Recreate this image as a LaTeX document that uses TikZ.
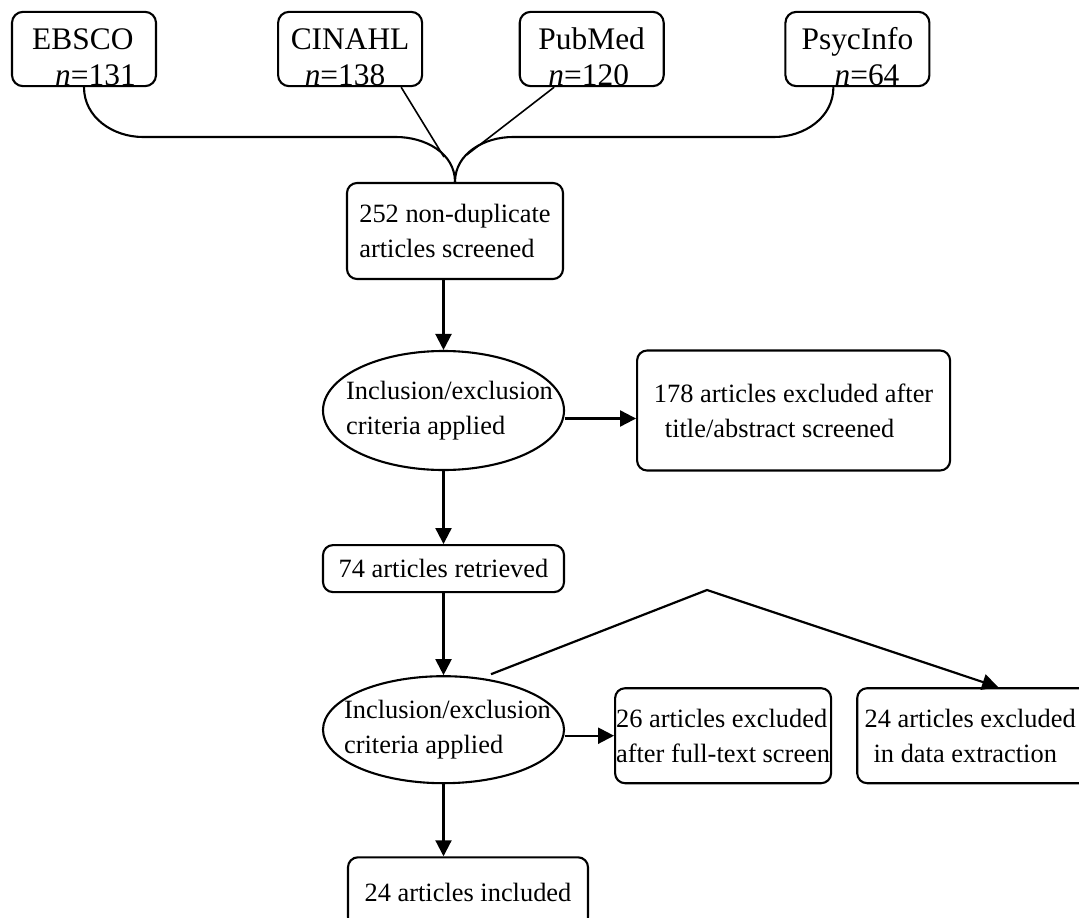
\documentclass[tikz,border=0pt]{standalone}
\usepackage{fontspec}
\setmainfont{Liberation Serif}
\usepackage{tikz}
\usetikzlibrary{shapes.geometric, arrows.meta, positioning, calc}

\begin{document}
\begin{tikzpicture}[
    x=1pt, y=1pt,
    source/.style={rectangle, draw, line width=2.1pt, rounded corners=11pt, minimum width=144pt, minimum height=74pt, inner xsep=4pt, inner ysep=0pt, align=left, font=\fontsize{31.4pt}{36pt}\selectfont},
    block/.style={rectangle, draw, line width=2.1pt, rounded corners=10pt, inner sep=0pt, align=left, font=\fontsize{26.4pt}{35pt}\selectfont},
    decision/.style={ellipse, draw, line width=2.1pt, minimum width=241pt, inner xsep=-30pt, inner ysep=0pt, align=left, font=\fontsize{26.4pt}{35pt}\selectfont},
    arrow/.style={-{Triangle[length=16pt, width=16pt]}, line width=2.2pt},
    link/.style={line width=2.1pt}
]
\useasboundingbox (0,0) rectangle (1079,-918);

% Row 0: databases
\node[source] at (84,-49) (ebsco) {EBSCO\rule{0pt}{38pt}\\\hspace*{23pt}\textit{n}=131};
\node[source, right=120pt of ebsco] (cinahl) {CINAHL\rule{0pt}{38pt}\\\hspace*{14pt}\textit{n}=138};
\node[source, right=95.5pt of cinahl] (pubmed) {PubMed\rule{0pt}{38pt}\\\hspace*{10pt}\textit{n}=120};
\node[source, right=119.6pt of pubmed] (psyc) {PsycInfo\rule{0pt}{38pt}\\\hspace*{33pt}\textit{n}=64};

% Row 1: merged records
\node[block, minimum width=216pt, minimum height=96pt] at (455,-231) (dup) {252 non-duplicate\\articles screened};

% Row 2: first screening
\node[decision, minimum height=119pt] at (443.5,-410.5) (incl1) {\hspace*{12pt}Inclusion/exclusion\\\hspace*{12pt}criteria applied};
\node[block, minimum width=313pt, minimum height=120pt, right=71pt of incl1] (excl1) {178 articles excluded after\\\hspace*{11pt}title/abstract screened};

% Row 3: retrieved
\node[block, minimum width=241pt, minimum height=47pt, below=73pt of incl1] (retr) {74 articles retrieved};

% Row 4: second screening
\node[decision, minimum height=107pt, below=82pt of retr] (incl2) {\hspace*{8pt}Inclusion/exclusion\\\hspace*{8pt}criteria applied};
\node[block, minimum width=216pt, minimum height=95pt, right=49pt of incl2, yshift=-6pt] (excl2) {26 articles excluded\\after full-text screen};
\node[block, minimum width=238pt, minimum height=95pt, right=24pt of excl2] (excl3) {24 articles excluded\hspace*{12pt}\\\hspace*{9pt}in data extraction};

% Row 5: included
\node[block, minimum width=240pt, minimum height=70pt, below=72pt of incl2, xshift=24.5pt] (final) {24 articles included};

% Brace points
\coordinate (lknee) at (143,-137);
\coordinate (lhook) at (396,-137);
\coordinate (rhook) at (513,-137);
\coordinate (rknee) at (774,-137);
\coordinate (cinahlend) at (444,-157);
\coordinate (pubmedend) at (466.6,-155);
\coordinate (peak) at (707,-590);

% === Arrows ===
% Databases -> merged records
\draw[link] (ebsco.south) to[out=-90, in=180] (lknee) -- (lhook) to[out=0, in=90] (dup.north);
\draw[link] (dup.north) to[out=90, in=180] (rhook) -- (rknee) to[out=0, in=-90] ([xshift=-24pt]psyc.south);
\draw[link, line width=1.6pt] ([xshift=-22pt]cinahl.south east) -- (cinahlend);
\draw[link, line width=1.6pt] ([xshift=35.5pt]pubmed.south west) -- (pubmedend);

% Main column
\draw[arrow] (dup.south -| incl1.north) -- (incl1.north);
\draw[arrow] ([yshift=-8pt]incl1.east) -- ([yshift=-8pt]excl1.west);
\draw[arrow] (incl1.south) -- (retr.north);
\draw[arrow] (retr.south) -- (incl2.north);
\draw[arrow] (incl2.east |- excl2.west) -- (excl2.west);
\draw[arrow] ($(incl2.center)+(47.5,55.5)$) -- (peak) -- ([xshift=22pt]excl3.north);
\draw[arrow] (incl2.south) -- (incl2.south |- final.north);
\end{tikzpicture}
\end{document}
